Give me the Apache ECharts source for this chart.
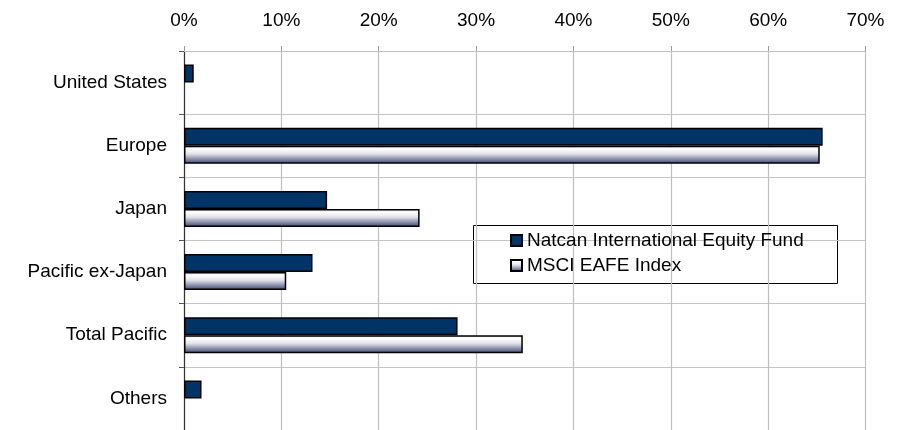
<!DOCTYPE html>
<html>
<head>
<meta charset="utf-8">
<script src="https://cdn.jsdelivr.net/npm/echarts@6/dist/echarts.min.js"></script>
<style>html,body{margin:0;padding:0;background:#fff;}#c{width:906px;height:430px;}</style>
</head>
<body>
<div id="c"></div>
<script>
const categories = ['United States', 'Europe', 'Japan', 'Pacific ex-Japan', 'Total Pacific', 'Others'];
const natcanValues = [1.0, 65.6, 14.7, 13.2, 28.1, 1.8];
const msciValues = [null, 65.3, 24.2, 10.5, 34.8, null];
const seriesNames = ['Natcan International Equity Fund', 'MSCI EAFE Index'];
const axisMin = 0, axisMax = 70, axisStep = 10;

const chart = echarts.init(document.getElementById('c'), null, {renderer: 'canvas'});
const font = 'Liberation Sans, Arial, sans-serif';
const msciGrad = new echarts.graphic.LinearGradient(0, 0, 0, 1, [
  {offset: 0, color: '#dcdce4'},
  {offset: 0.18, color: '#ffffff'},
  {offset: 0.45, color: '#e2e3ea'},
  {offset: 1, color: '#3a4470'}
]);
chart.setOption({
  animation: false,
  backgroundColor: '#ffffff',
  grid: {left: 184, top: 51, width: 681.5, height: 380, containLabel: false},
  xAxis: {
    type: 'value', position: 'top', min: axisMin, max: axisMax, interval: axisStep,
    axisLine: {show: true, lineStyle: {color: '#bfbfbf', width: 1}},
    axisTick: {show: true, length: 5, lineStyle: {color: '#999'}},
    axisLabel: {formatter: '{value}%', color: '#000', fontFamily: font, fontSize: 19, margin: 21},
    splitLine: {show: true, lineStyle: {color: '#bfbfbf', width: 1.2}}
  },
  yAxis: {
    type: 'category', data: categories, inverse: true,
    axisLine: {show: true, lineStyle: {color: '#333', width: 1.2}},
    axisTick: {show: true, length: 5, lineStyle: {color: '#555'}},
    axisLabel: {color: '#000', fontFamily: font, fontSize: 19, margin: 17},
    splitLine: {show: true, lineStyle: {color: '#c4c4c4', width: 1.2}}
  },
  legend: {
    orient: 'vertical', left: 505, top: 226, itemGap: 6,
    itemWidth: 11, itemHeight: 11, icon: 'rect',
    textStyle: {color: '#000', fontFamily: font, fontSize: 19, lineHeight: 19},
    data: seriesNames
  },
  graphic: [{
    type: 'rect', z: 0, silent: true,
    shape: {x: 473.5, y: 225.5, width: 364, height: 58},
    style: {fill: '#fff', stroke: '#000', lineWidth: 1}
  }],
  series: [
    {
      name: seriesNames[0], type: 'bar', data: natcanValues, barWidth: 18, barGap: '0%',
      itemStyle: {color: '#003366', borderColor: '#000', borderWidth: 1.5}
    },
    {
      name: seriesNames[1], type: 'bar', data: msciValues, barWidth: 18, barGap: '0%',
      itemStyle: {color: msciGrad, borderColor: '#000', borderWidth: 1.5}
    }
  ]
});
</script>
</body>
</html>
